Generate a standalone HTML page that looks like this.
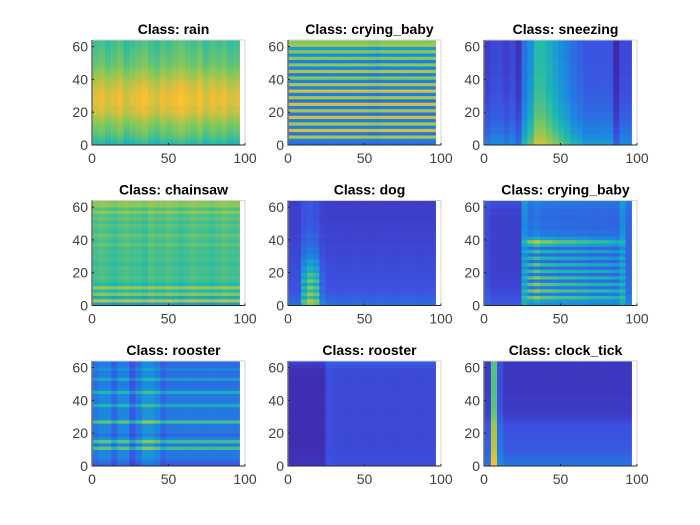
<!DOCTYPE html>
<html><head><meta charset="utf-8"><style>
body{margin:0;background:#fff;}
svg{display:block;font-family:"Liberation Sans",Arial,sans-serif;}
</style></head><body>
<svg id="fig" width="700" height="525" viewBox="0 0 700 525"></svg>
<script>
// ---- data (32 freq bands low->high, 24 time frames) ----
const titles = ["Class: rain","Class: crying_baby","Class: sneezing","Class: chainsaw","Class: dog","Class: crying_baby","Class: rooster","Class: rooster","Class: clock_tick"];
const xTicks = [0,50,100];
const yTicks = [0,20,40,60];
const rainBand = [0.55,0.58,0.62,0.64,0.66,0.68,0.7,0.72,0.75,0.78,0.8,0.8,0.82,0.82,0.82,0.82,0.8,0.8,0.78,0.76,0.74,0.72,0.7,0.68,0.66,0.65,0.64,0.63,0.62,0.62,0.6,0.6];
const rainFrame = [0,0.02,-0.02,0,0.03,-0.03,0,0.02,0.04,0,-0.02,0.02,0,0.03,0.05,0.02,0,0.04,-0.02,0.02,0,0.02,-0.02,0];
const baby1Band = [0.3,0.35,0.75,0.3,0.8,0.35,0.75,0.35,0.8,0.3,0.75,0.35,0.8,0.3,0.75,0.35,0.8,0.35,0.75,0.35,0.7,0.35,0.75,0.35,0.7,0.35,0.7,0.4,0.7,0.45,0.75,0.7];
const baby1Frame = [0,0,0,0,0,0,0,0,0,0,0,0,0,-0.02,-0.03,0,0,0,0,0,0,0,0,0];
const sneezeBand = [0.25,0.22,0.2,0.18,0.16,0.15,0.13,0.12,0.1,0.1,0.08,0.08,0.07,0.06,0.05,0.05,0.04,0.04,0.03,0.03,0.03,0.02,0.02,0.02,0.02,0.02,0.01,0.01,0.01,0.01,0.01,0.01];
const sneezeFrame = [0.1,0.15,0.15,0.1,0.15,0.05,0.3,0.4,0.55,0.55,0.5,0.45,0.4,0.35,0.28,0.25,0.2,0.2,0.2,0.2,0.2,0.0,0.15,0.15];
const chainBand = [0.45,0.75,0.5,0.7,0.55,0.72,0.55,0.6,0.62,0.6,0.6,0.62,0.58,0.6,0.62,0.6,0.62,0.6,0.65,0.6,0.62,0.65,0.6,0.62,0.64,0.6,0.65,0.62,0.7,0.62,0.72,0.7];
const chainFrame = [0,0.02,0,-0.02,0,0.02,0,0,-0.02,0.02,0,0,0.02,0,-0.02,0,0.02,0,0,-0.02,0,0.02,0,0];
const dogBand = [0.3,0.27,0.25,0.23,0.21,0.2,0.2,0.19,0.19,0.18,0.18,0.17,0.17,0.16,0.16,0.15,0.15,0.15,0.15,0.14,0.14,0.14,0.13,0.13,0.13,0.13,0.12,0.12,0.12,0.12,0.12,0.12];
const dogFrame = [0,0,0.05,0.05,0.03,0,0,0,0,0,0,0,0,0,0,0,0,0,0,0,0,0,0,0];
const dogHotBand = [0.4,0.5,0.3,0.5,0.35,0.5,0.3,0.5,0.35,0.45,0.3,0.35,0.25,0.3,0.2,0.2,0.15,0.15,0.1,0.1,0.08,0.1,0.08,0.06,0.05,0.05,0.05,0.05,0.05,0.05,0.05,0.05];
const dogHotFrame = [0,0,0.6,0.9,0.8,0.2,0,0,0,0,0,0,0,0,0,0,0,0,0,0,0,0,0,0];
const baby2Band = [0.28,0.26,0.24,0.22,0.21,0.2,0.19,0.19,0.18,0.18,0.17,0.17,0.17,0.17,0.17,0.17,0.17,0.17,0.17,0.17,0.17,0.17,0.17,0.17,0.17,0.17,0.17,0.17,0.19,0.19,0.21,0.23];
const baby2Frame = [0,-0.05,-0.05,-0.05,-0.05,-0.05,0.2,0.05,0.08,0.05,0.05,0.05,0.05,0.05,0.05,0.05,0.05,0.05,0.05,0.05,0.05,0.05,0.2,0.1];
const baby2HotBand = [0.1,0.2,0.45,0.1,0.5,0.1,0.5,0.1,0.5,0.1,0.45,0.1,0.45,0.1,0.4,0.1,0.4,0.1,0.4,0.6,0.3,0.15,0.15,0.1,0.1,0.1,0.08,0.08,0.08,0.08,0.08,0.08];
const baby2HotFrame = [0,0,0,0,0,0,0.3,0.8,0.9,0.8,0.8,0.75,0.7,0.7,0.7,0.65,0.65,0.6,0.6,0.6,0.55,0.5,0.3,0];
const roosterBand = [0.18,0.22,0.28,0.28,0.28,0.55,0.28,0.55,0.32,0.22,0.28,0.28,0.28,0.55,0.28,0.28,0.28,0.28,0.45,0.28,0.28,0.28,0.45,0.28,0.25,0.25,0.4,0.25,0.25,0.32,0.25,0.25];
const roosterFrame = [0.05,0.1,0.1,0,0.1,0.1,-0.05,0.05,0.15,0.15,0.1,0,0.05,0.05,0.05,0.05,0.05,0.05,0.05,0.05,0.05,0.05,0.05,0.05];
const rooster2Band = [0.05,0.04,0.04,0.03,0.03,0.02,0.02,0.02,0.02,0.02,0.02,0.02,0.02,0.02,0.02,0.02,0.02,0.02,0.02,0.02,0.02,0.02,0.02,0.02,0.02,0.02,0.02,0.02,0.02,0.03,0.06,0.1];
const rooster2Frame = [0.02,0.02,0.02,0.02,0.02,0.02,0.16,0.15,0.14,0.14,0.14,0.14,0.14,0.14,0.14,0.14,0.14,0.14,0.14,0.14,0.14,0.14,0.14,0.14];
const clockBand = [0.32,0.3,0.28,0.26,0.24,0.23,0.22,0.22,0.21,0.21,0.2,0.2,0.19,0.16,0.14,0.12,0.1,0.1,0.09,0.09,0.09,0.09,0.08,0.08,0.08,0.08,0.08,0.08,0.08,0.08,0.08,0.08];
const clockFrame = [0.02,0.55,0.1,0,0,0,0,0,0,0,0,0,0,0,0,0,0,0,0,0,0,0,0,0];
const zeros = new Array(32).fill(0), zerosF = new Array(24).fill(0);
const panels = [
 [rainBand,rainFrame,zeros,zerosF],[baby1Band,baby1Frame,zeros,zerosF],[sneezeBand,sneezeFrame,zeros,zerosF],
 [chainBand,chainFrame,zeros,zerosF],[dogBand,dogFrame,dogHotBand,dogHotFrame],[baby2Band,baby2Frame,baby2HotBand,baby2HotFrame],
 [roosterBand,roosterFrame,zeros,zerosF],[rooster2Band,rooster2Frame,zeros,zerosF],[clockBand,clockFrame,zeros,zerosF]];

const stops=[[0,[62,38,168]],[0.2,[60,80,225]],[0.4,[25,140,225]],[0.55,[30,185,175]],[0.7,[130,200,90]],[0.85,[245,190,50]],[1,[249,250,20]]];
function parula(v){v=Math.max(0,Math.min(1,v));for(let i=1;i<stops.length;i++){if(v<=stops[i][0]){const a=stops[i-1],b=stops[i],t=(v-a[0])/(b[0]-a[0]);return 'rgb('+a[1].map((c,k)=>Math.round(c+(b[1][k]-c)*t)).join(',')+')';}}return 'rgb(249,250,20)';}
const NS="http://www.w3.org/2000/svg", svg=document.getElementById('fig');
function mk(t,a,p){const e=document.createElementNS(NS,t);for(const k in a)e.setAttribute(k,a[k]);(p||svg).appendChild(e);return e;}
panels.forEach((P,i)=>{
 const ox=92+(i%3)*196, oy=40+Math.floor(i/3)*160.5, W=153, H=105;
 const sx=v=>ox+v/100*W, sy=v=>oy+H-v/64*H;
 const g=mk('g',{});
 
 
 const [band,frame,hb,hf]=P;
 for(let r=0;r<32;r++)for(let c=0;c<24;c++){
  const v=band[r]+frame[c]+hb[r]*hf[c];
  const x0=sx(0.5+c*4), x1=sx(0.5+(c+1)*4), y0=sy((r+1)*2), y1=sy(r*2);
  const rc=mk('rect',{x:x0,y:y0,width:x1-x0+0.3,height:y1-y0+0.3,fill:parula(v)},g);
  
  
 }
 mk('path',{d:`M${ox} ${oy}H${ox+W}V${oy+H}`,stroke:'#d0d0d0',fill:'none','stroke-width':1},g);
 mk('path',{d:`M${ox} ${oy}V${oy+H}H${ox+W}`,stroke:'#262626',fill:'none','stroke-width':1},g);
 xTicks.forEach(t=>{mk('line',{x1:sx(t),x2:sx(t),y1:oy+H,y2:oy+H-2,stroke:'#262626'},g);
  const tx=mk('text',{x:sx(t),y:oy+H+18,'text-anchor':'middle','font-size':14,fill:'#404040'},g);tx.textContent=t;
  });
 yTicks.forEach(t=>{mk('line',{x1:ox,x2:ox+2,y1:sy(t),y2:sy(t),stroke:'#262626'},g);
  const tx=mk('text',{x:ox-4,y:sy(t)+5,'text-anchor':'end','font-size':14,fill:'#404040'},g);tx.textContent=t;
  });
 const tt=mk('text',{x:ox+W/2+5,y:oy-6,'text-anchor':'middle','font-size':14,'font-weight':'bold',fill:'#000'},g);
 tt.textContent=titles[i];
 
 
});
</script>
</body></html>
